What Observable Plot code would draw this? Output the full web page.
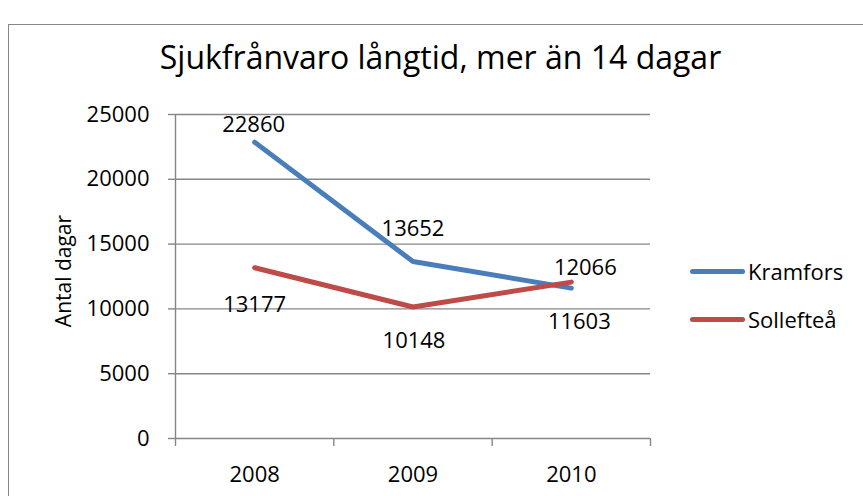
<!DOCTYPE html>
<html><head><meta charset="utf-8">
<script src="https://cdn.jsdelivr.net/npm/d3@7"></script>
<script src="https://cdn.jsdelivr.net/npm/@observablehq/plot@0.6"></script>
<style>
body{margin:0;background:#fff;font-family:"Open Sans",sans-serif;}
#wrap{position:relative;width:863px;height:496px;overflow:hidden;background:#fff;}
#chart{position:absolute;left:0;top:0;}
#border{position:absolute;left:8px;top:24px;width:900px;height:600px;border:1.5px solid #878787;box-sizing:border-box;pointer-events:none;}
#title{position:absolute;left:0;width:881px;top:37px;text-align:center;font-size:32px;line-height:40px;color:#000;white-space:nowrap;}
#ytitle{position:absolute;left:63px;top:271px;font-size:21px;line-height:30px;color:#000;white-space:nowrap;transform:translate(-50%,-50%) rotate(-90deg);}
#legend{position:absolute;left:690px;top:256px;font-size:22px;color:#000;}
.row{display:flex;align-items:center;height:30px;margin-bottom:18px;}
.sw{width:55px;height:5px;border-radius:3px;margin-right:3px;}
</style></head><body>
<div id="wrap"><div id="chart"></div><div id="title"></div><div id="ytitle"></div><div id="legend"></div><div id="border"></div></div>
<script>
const title = "Sjukfrånvaro långtid, mer än 14 dagar";
const yTitle = "Antal dagar";
const years = ["2008", "2009", "2010"];
const series = ["Kramfors", "Sollefteå"];
const kramfors = [22860, 13652, 11603];
const solleftea = [13177, 10148, 12066];
const yTicks = [0, 5000, 10000, 15000, 20000, 25000];
const colors = ["#4A7EBB", "#BE4B48"];

const values = [kramfors, solleftea];
const data = [];
series.forEach((s, k) => years.forEach((yr, i) => data.push({series: s, year: yr, i, x: i + 0.5, value: values[k][i]})));

// label placement (offsets in px from point), style only
const offsets = {
  "Kramfors": [[-1, -17], [0, -33], [8, 34]],
  "Sollefteå": [[0, 37], [1, 34], [14, -14]]
};
const labelMarks = data.map(d => Plot.text([d], {
  x: "x", y: "value", text: d => String(d.value),
  dx: offsets[d.series][d.i][0], dy: offsets[d.series][d.i][1],
  fontSize: 22, fill: "#000"
}));

const gray = "#868686";
const chart = Plot.plot({
  width: 863, height: 496,
  marginLeft: 175, marginRight: 213, marginTop: 114, marginBottom: 58,
  style: {fontFamily: "Open Sans, sans-serif", background: "transparent", overflow: "visible"},
  x: {type: "linear", domain: [0, years.length]},
  y: {domain: [0, 25000]},
  marks: [
    Plot.gridY(yTicks, {stroke: gray, strokeOpacity: 1, strokeWidth: 1.4}),
    Plot.ruleX([0], {stroke: gray, strokeWidth: 1.4}),
    Plot.axisY({ticks: yTicks, tickFormat: d => String(d), tickSize: 7, tickPadding: 19, stroke: gray, strokeWidth: 1.4, strokeOpacity: 1, fontSize: 22, fill: "#000", label: null}),
    Plot.axisX({ticks: d3.range(years.length + 1), tickFormat: () => "", tickSize: 8, stroke: gray, strokeWidth: 1.4, strokeOpacity: 1, label: null}),
    Plot.axisX({ticks: years.map((_, i) => i + 0.5), tickFormat: d => years[Math.floor(d)], tickSize: 0, tickPadding: 28, fontSize: 22, fill: "#000", label: null}),
    Plot.line(data, {x: "x", y: "value", z: "series", stroke: d => colors[series.indexOf(d.series)], strokeWidth: 5, strokeLinecap: "round", strokeLinejoin: "round"}),
    ...labelMarks
  ]
});
document.getElementById("chart").appendChild(chart);
document.getElementById("title").textContent = title;
document.getElementById("ytitle").textContent = yTitle;
const leg = document.getElementById("legend");
series.forEach((s, k) => {
  const r = document.createElement("div"); r.className = "row";
  const sw = document.createElement("div"); sw.className = "sw"; sw.style.background = colors[k];
  const t = document.createElement("span"); t.textContent = s;
  r.appendChild(sw); r.appendChild(t); leg.appendChild(r);
});
</script>
</body></html>
